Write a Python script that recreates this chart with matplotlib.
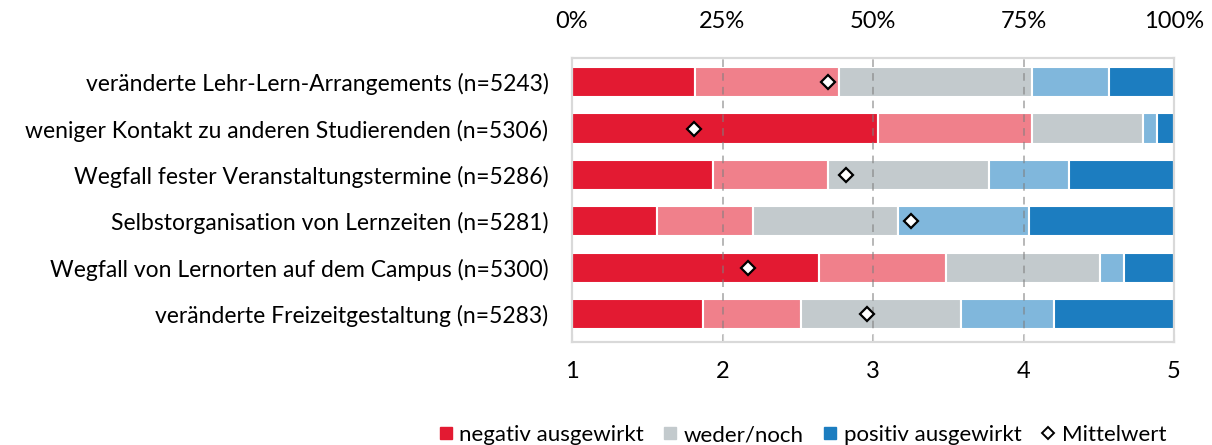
import matplotlib
matplotlib.use("Agg")
import matplotlib.pyplot as plt
from matplotlib.lines import Line2D
import numpy as np

categories = [
    "veränderte Lehr-Lern-Arrangements (n=5243)",
    "weniger Kontakt zu anderen Studierenden (n=5306)",
    "Wegfall fester Veranstaltungstermine (n=5286)",
    "Selbstorganisation von Lernzeiten (n=5281)",
    "Wegfall von Lernorten auf dem Campus (n=5300)",
    "veränderte Freizeitgestaltung (n=5283)",
]
# percentages per answer category 1..5
seg1 = [20.5, 50.8, 23.5, 14.2, 41.1, 21.8]
seg2 = [23.9, 25.6, 19.0, 15.9, 21.0, 16.2]
seg3 = [32.0, 18.4, 26.8, 24.0, 25.6, 26.6]
seg4 = [12.8, 2.3, 13.2, 21.8, 4.0, 15.5]
seg5 = [10.8, 2.9, 17.5, 24.1, 8.3, 19.9]
means = [2.70, 1.81, 2.82, 3.25, 2.17, 2.96]

pct_ticks = [0, 25, 50, 75, 100]
pct_labels = ["0%", "25%", "50%", "75%", "100%"]
scale_ticks = [1, 2, 3, 4, 5]

colors = ["#E31A32", "#F0808B", "#C3CACD", "#80B7DC", "#1C7DC0"]
legend_labels = ["negativ ausgewirkt", "weder/noch", "positiv ausgewirkt", "Mittelwert"]

plt.rcParams['font.family'] = ['Lato', 'DejaVu Sans']

fig = plt.figure(figsize=(12.12, 4.45), dpi=100)
ax = fig.add_axes([572/1212, 1-342/445, (1174-572)/1212, (342-58)/445])

y = np.arange(len(categories))
segs = [seg1, seg2, seg3, seg4, seg5]
left = np.zeros(len(categories))
for s, c in zip(segs, colors):
    vals = np.array(s)
    ax.barh(y, vals, left=left, height=0.65, color=c, edgecolor="white", linewidth=1.5, zorder=2)
    left += vals

ax.set_xlim(0, 100)
ax.set_ylim(len(categories) - 1 + 0.6, -0.52)
ax.set_yticks(y)
ax.set_yticklabels(categories, fontsize=16.5)
ax.tick_params(axis='y', length=0, pad=17)

for v in [25, 50, 75]:
    ax.axvline(v, color="#7f7f7f", linestyle=(0, (5, 4)), linewidth=1.1, alpha=0.7, zorder=3)

# bottom axis: mean scale 1-5
axm = ax.twiny()
axm.set_xlim(1, 5)
axm.xaxis.set_ticks_position('bottom')
axm.xaxis.set_label_position('bottom')
axm.set_xticks(scale_ticks)
axm.set_xticklabels([str(t) for t in scale_ticks], fontsize=17)
axm.tick_params(axis='x', direction='in', length=6, color="#d0d0d0", pad=14)
axm.plot(means, y, linestyle='none', marker='D', markersize=7.5, markerfacecolor='white',
         markeredgecolor='black', markeredgewidth=1.6, zorder=5)
axm.set_ylim(ax.get_ylim())

# top axis: percentages
ax.xaxis.set_ticks_position('top')
ax.set_xticks(pct_ticks)
ax.set_xticklabels(pct_labels, fontsize=17)
ax.tick_params(axis='x', length=0, pad=19)

for a in (ax, axm):
    for sp in a.spines.values():
        sp.set_color("#d9d9d9")
        sp.set_linewidth(1.5)

handles = [
    Line2D([], [], linestyle='none', marker='s', markersize=9, color=colors[0]),
    Line2D([], [], linestyle='none', marker='s', markersize=9, color=colors[2]),
    Line2D([], [], linestyle='none', marker='s', markersize=9, color=colors[4]),
    Line2D([], [], linestyle='none', marker='D', markersize=6.5, markerfacecolor='white',
           markeredgecolor='black', markeredgewidth=1.4),
]
fig.legend(handles, legend_labels, loc='lower right', bbox_to_anchor=(1186/1212, -0.045),
           ncol=4, frameon=False, fontsize=16, handlelength=0.6, handletextpad=0.3,
           columnspacing=0.9)

fig.savefig("out.png", dpi=100)
